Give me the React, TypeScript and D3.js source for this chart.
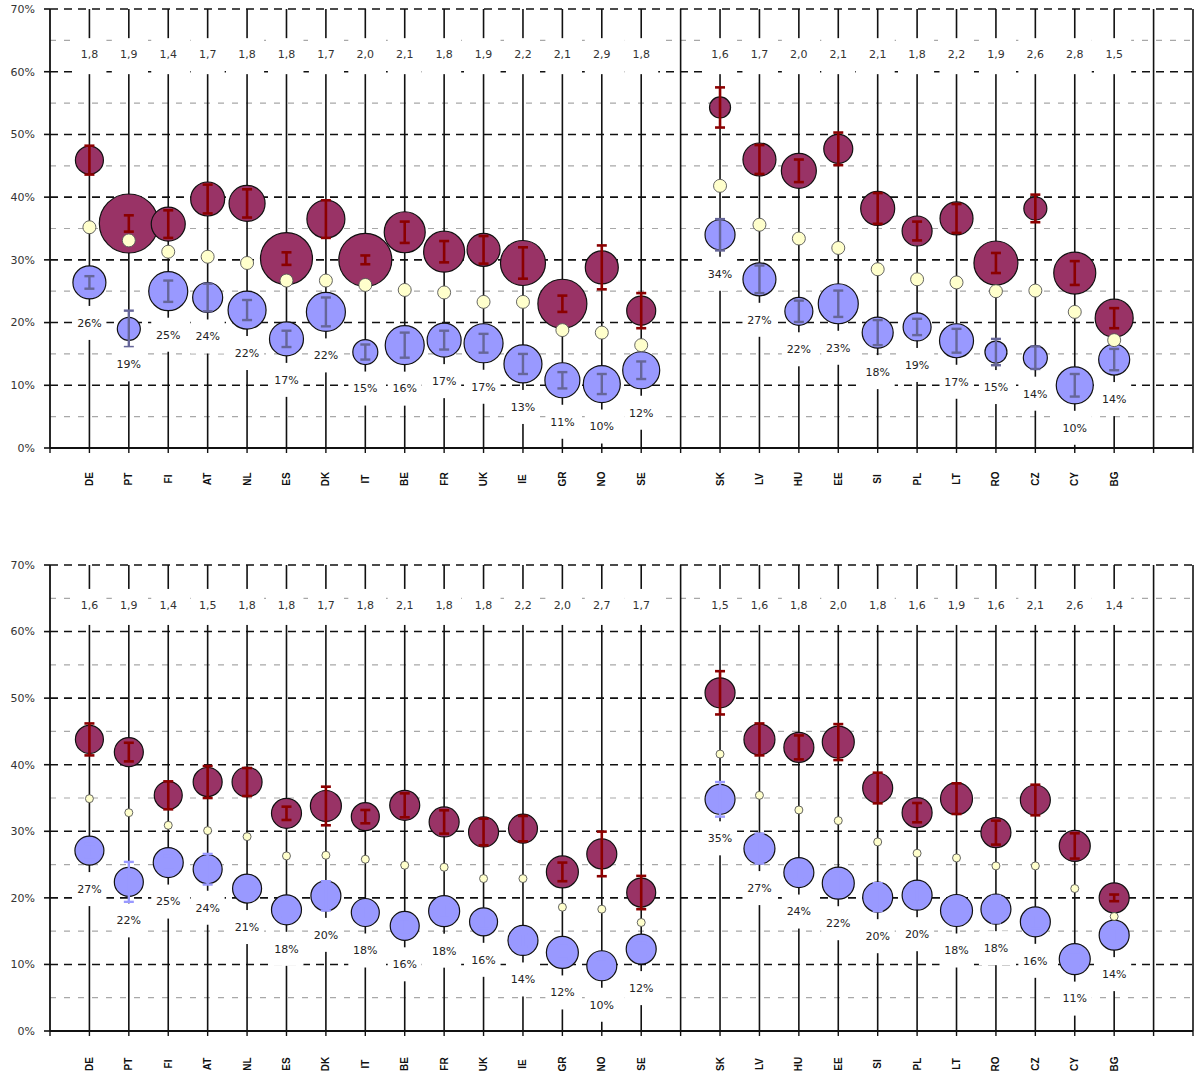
import React from "react";
import * as d3 from "d3";

// ---------- DATA ----------
const categories = ["DE","PT","FI","AT","NL","ES","DK","IT","BE","FR","UK","IE","GR","NO","SE",
  "SK","LV","HU","EE","SI","PL","LT","RO","CZ","CY","BG"];
// slots with a full-height line but no category
const emptySlots = [16, 28, 29];

// Top panel
const topRatios = [1.8,1.9,1.4,1.7,1.8,1.8,1.7,2.0,2.1,1.8,1.9,2.2,2.1,2.9,1.8, 1.6,1.7,2.0,2.1,2.1,1.8,2.2,1.9,2.6,2.8,1.5];
const topMaroon = [45.9,35.8,35.7,39.7,39.0,30.2,36.5,30.0,34.4,31.3,31.6,29.5,23.0,28.8,21.9, 54.3,46.0,44.2,47.7,38.2,34.6,36.6,29.5,38.2,27.9,20.7];
const topMaroonErr = [2.3,1.3,2.2,2.3,2.25,1.0,3.0,0.7,1.7,1.7,2.2,2.5,1.3,3.5,2.8, 3.2,2.3,1.8,2.6,2.45,1.5,2.3,1.6,2.2,1.9,1.6];
const topMaroonSize = [14,29.5,17,17,18,26,19,26.5,20.5,20.5,16.5,22.5,24.5,16.5,14.5, 10.5,16.5,17.5,14.5,17,15,16.5,22,11.5,21,19];
const topYellow = [35.2,33.1,31.3,30.5,29.5,26.7,26.7,26.0,25.2,24.8,23.3,23.3,18.8,18.4,16.4, 41.8,35.6,33.4,31.9,28.5,26.9,26.4,25.0,25.1,21.7,17.2];
const topBlue = [26.4,19.0,25.0,24.0,22.0,17.4,21.7,15.3,16.4,17.2,16.7,13.4,10.8,10.2,12.4, 34.0,26.9,21.8,23.0,18.4,19.3,17.1,15.3,14.4,10.0,14.1];
const topBlueErr = [1.0,2.9,1.7,2.2,1.6,1.3,2.3,1.2,2.0,1.5,1.5,1.6,1.3,1.6,1.4, 2.5,2.2,1.7,2.1,2.0,1.3,1.9,2.1,1.8,1.8,1.7];
const topBlueSize = [16.5,11.5,19.5,15,19,17,19.5,12.5,19.5,17,19.5,19,17.5,18.5,18.5, 15,16.5,14,20,15.5,14,17,11,12,18.5,15.5];

// Bottom panel
const botRatios = [1.6,1.9,1.4,1.5,1.8,1.8,1.7,1.8,2.1,1.8,1.8,2.2,2.0,2.7,1.7, 1.5,1.6,1.8,2.0,1.8,1.6,1.9,1.6,2.1,2.6,1.4];
const botMaroon = [43.8,41.9,35.4,37.4,37.4,32.7,33.8,32.2,33.9,31.4,29.9,30.4,23.9,26.6,20.8, 50.8,43.8,42.6,43.4,36.5,32.8,34.9,29.8,34.7,27.8,20.0];
const botMaroonErr = [2.4,1.4,2.1,2.4,2.1,1.0,2.9,1.0,1.8,1.75,2.0,1.9,1.4,3.35,2.5, 3.25,2.4,1.8,2.7,2.3,1.45,2.3,1.8,2.3,1.9,0.5];
const botMaroonSize = [14,14.5,14,14.5,15,15,15.5,14,15,15,15,14.5,16,15,14.5, 15,15.5,15,16,15,15,16,15,15,15.5,15];
const botYellow = [34.9,32.8,30.9,30.1,29.2,26.3,26.4,25.8,24.9,24.6,22.9,22.9,18.6,18.3,16.3, 41.6,35.4,33.2,31.6,28.4,26.7,26.0,24.8,24.8,21.4,17.2];
const botBlue = [27.1,22.4,25.3,24.3,21.4,18.2,20.3,17.8,15.8,18.0,16.4,13.6,11.8,9.8,12.3, 34.8,27.4,23.8,22.2,20.1,20.4,18.1,18.3,16.4,10.8,14.4];
const botBlueErr = [1.0,3.0,1.0,2.3,1.0,1.0,2.2,1.0,1.0,1.0,1.0,1.0,1.0,1.0,1.0, 2.6,2.25,1.0,2.0,2.1,1.0,2.0,2.0,1.0,1.0,1.0];
const botBlueSize = [14.5,14.5,15,14.5,14.5,15,15,14,14.5,15.5,14,15,16,15,15, 15,15.5,15,16,15,15,16,15,15,15.5,15];

const yTicks = [0, 10, 20, 30, 40, 50, 60, 70];

// ---------- LAYOUT ----------
const W = 1194, H = 1077;
const x = d3.scaleLinear().domain([0, 29]).range([50, 1193]);
const slotOf = (i: number) => (i < 15 ? i + 1 : i + 2);
const rScale = d3.scaleLinear().domain([0, 30]).range([0, 30]);
const fmtRatio = (v: number) => d3.format(".1f")(v).replace(".", ",");
const fmtPct = (v: number) => `${Math.round(v)}%`;

const MAROON = "#993366";
const MAROON_ERR = "#8B0000";
const BLUE = "#9999FF";
const YELLOW = "#FFFFCC";
const FONT = "'DejaVu Sans', Verdana, sans-serif";

type PanelCfg = {
  bottom: number; top: number; ratioAt: number;
  ratios: number[]; maroon: number[]; maroonErr: number[]; maroonSize: number[];
  yellow: number[]; yellowR: number;
  blue: number[]; blueErr: number[]; blueSize: number[]; blueErrColor: string;
  catLabelY: number;
};

function Panel({ c }: { c: PanelCfg }) {
  const y = d3.scaleLinear().domain([0, 70]).range([c.bottom, c.top]);
  const majors = d3.range(10, 71, 10);
  const minors = d3.range(5, 70, 10);
  const lineSlots = [...categories.map((_, i) => slotOf(i)), ...emptySlots];
  const x0 = x(0), x1 = x(29);
  const boxW = 34, boxH = 34;

  return (
    <g>
      {minors.map((v) => (
        <line key={"mn" + v} x1={x0} x2={x1} y1={y(v)} y2={y(v)} stroke="#a8a8a8" strokeWidth={1.2} strokeDasharray="6,8" />
      ))}
      {majors.map((v) => (
        <line key={"mj" + v} x1={x0} x2={x1} y1={y(v)} y2={y(v)} stroke="#111" strokeWidth={1.6} strokeDasharray="8,6" />
      ))}
      {lineSlots.map((s) => (
        <line key={"v" + s} x1={x(s)} x2={x(s)} y1={y(70)} y2={y(0)} stroke="#111" strokeWidth={1.6} />
      ))}
      {categories.map((k, i) => {
        const cx = x(slotOf(i));
        return (
          <g key={"m" + k}>
            <circle cx={cx} cy={y(c.maroon[i])} r={rScale(c.maroonSize[i])} fill={MAROON} stroke="#111" strokeWidth={1.2} />
            <g stroke={MAROON_ERR} strokeWidth={2.6}>
              <line x1={cx} x2={cx} y1={y(c.maroon[i] + c.maroonErr[i])} y2={y(c.maroon[i] - c.maroonErr[i])} />
              <line x1={cx - 5} x2={cx + 5} y1={y(c.maroon[i] + c.maroonErr[i])} y2={y(c.maroon[i] + c.maroonErr[i])} />
              <line x1={cx - 5} x2={cx + 5} y1={y(c.maroon[i] - c.maroonErr[i])} y2={y(c.maroon[i] - c.maroonErr[i])} />
            </g>
          </g>
        );
      })}
      {categories.map((k, i) => {
        const cx = x(slotOf(i));
        return (
          <g key={"b" + k}>
            <circle cx={cx} cy={y(c.blue[i])} r={rScale(c.blueSize[i])} fill={BLUE} stroke="#111" strokeWidth={1.2} />
            <g stroke={c.blueErrColor} strokeWidth={2.4}>
              <line x1={cx} x2={cx} y1={y(c.blue[i] + c.blueErr[i])} y2={y(c.blue[i] - c.blueErr[i])} />
              <line x1={cx - 5} x2={cx + 5} y1={y(c.blue[i] + c.blueErr[i])} y2={y(c.blue[i] + c.blueErr[i])} />
              <line x1={cx - 5} x2={cx + 5} y1={y(c.blue[i] - c.blueErr[i])} y2={y(c.blue[i] - c.blueErr[i])} />
            </g>
          </g>
        );
      })}
      {categories.map((k, i) => (
        <circle key={"y" + k} cx={x(slotOf(i))} cy={y(c.yellow[i])} r={c.yellowR} fill={YELLOW} stroke="#555" strokeWidth={0.9} />
      ))}
      {categories.map((k, i) => {
        const cx = x(slotOf(i));
        const cy = y(c.ratioAt);
        return (
          <g key={"r" + k}>
            <rect x={cx - boxW / 2} y={cy - boxH / 2 + 1} width={boxW} height={boxH + 2} fill="#fff" />
            <text x={cx} y={cy} dy="0.35em" textAnchor="middle" fontFamily={FONT} fontSize={11} fill="#333">{fmtRatio(c.ratios[i])}</text>
          </g>
        );
      })}
      {categories.map((k, i) => {
        const cx = x(slotOf(i));
        const cy = y(c.blue[i]) + rScale(c.blueSize[i]) + 24;
        return (
          <g key={"p" + k}>
            <rect x={cx - boxW / 2} y={cy - boxH / 2} width={boxW} height={boxH} fill="#fff" />
            <text x={cx} y={cy} dy="0.35em" textAnchor="middle" fontFamily={FONT} fontSize={11} fill="#222">{fmtPct(c.blue[i])}</text>
          </g>
        );
      })}
      <line x1={x0} x2={x0} y1={y(70)} y2={y(0)} stroke="#111" strokeWidth={1.8} />
      {yTicks.map((v) => (
        <g key={"yt" + v}>
          <line x1={x0 - 6} x2={x0} y1={y(v)} y2={y(v)} stroke="#111" strokeWidth={1.6} />
          <text x={x0 - 15} y={y(v)} dy="0.35em" textAnchor="end" fontFamily={FONT} fontSize={11} fill="#333">{v}%</text>
        </g>
      ))}
      <line x1={x0} x2={x1} y1={y(0)} y2={y(0)} stroke="#111" strokeWidth={1.8} />
      {d3.range(0, 30).map((s) => (
        <line key={"xt" + s} x1={x(s)} x2={x(s)} y1={y(0)} y2={y(0) + 5} stroke="#111" strokeWidth={1.4} />
      ))}
      {categories.map((k, i) => (
        <text key={"xl" + k} transform={`translate(${x(slotOf(i))},${c.catLabelY}) rotate(-90)`} dy="0.35em" textAnchor="middle"
          fontFamily="'Liberation Sans', Arial, sans-serif" fontWeight="bold" fontSize={10} fill="#111">{k}</text>
      ))}
    </g>
  );
}

const topCfg: PanelCfg = {
  bottom: 448, top: 9, ratioAt: 62.8,
  ratios: topRatios, maroon: topMaroon, maroonErr: topMaroonErr, maroonSize: topMaroonSize,
  yellow: topYellow, yellowR: 6.5,
  blue: topBlue, blueErr: topBlueErr, blueSize: topBlueSize, blueErrColor: "#666699",
  catLabelY: 479,
};
const botCfg: PanelCfg = {
  bottom: 1031, top: 565, ratioAt: 64.0,
  ratios: botRatios, maroon: botMaroon, maroonErr: botMaroonErr, maroonSize: botMaroonSize,
  yellow: botYellow, yellowR: 4,
  blue: botBlue, blueErr: botBlueErr, blueSize: botBlueSize, blueErrColor: BLUE,
  catLabelY: 1064,
};

export default function App() {
  return (
    <div style={{ position: "absolute", left: 0, top: 0, width: W, height: H, background: "#fff" }}>
      <svg width={W} height={H} viewBox={`0 0 ${W} ${H}`} style={{ display: "block" }}>
        <rect width={W} height={H} fill="#fff" />
        <Panel c={topCfg} />
        <Panel c={botCfg} />
      </svg>
    </div>
  );
}
